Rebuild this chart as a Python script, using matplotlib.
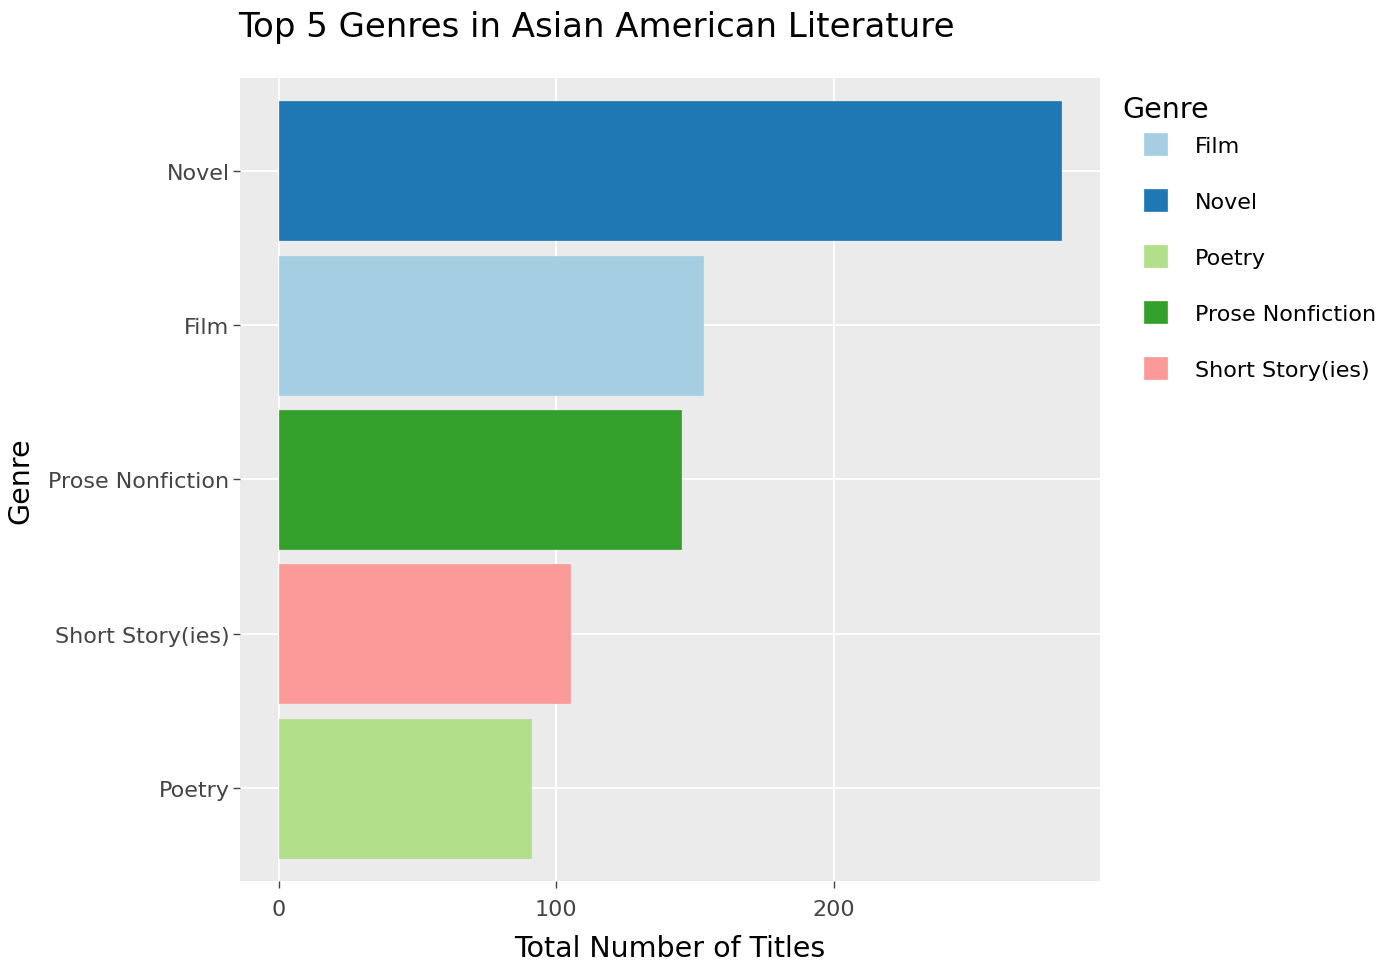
import matplotlib
matplotlib.use("Agg")
import matplotlib.pyplot as plt
from matplotlib.patches import Rectangle

genres = ["Poetry", "Short Story(ies)", "Prose Nonfiction", "Film", "Novel"]
titles = [91, 105, 145, 153, 282]
colors = {"Film": "#a6cee3", "Novel": "#1f78b4", "Poetry": "#b2df8a",
          "Prose Nonfiction": "#33a02c", "Short Story(ies)": "#fb9a99"}
legend_order = ["Film", "Novel", "Poetry", "Prose Nonfiction", "Short Story(ies)"]
xticks = [0, 100, 200]

W, H = 1400, 962
fig = plt.figure(figsize=(14, 9.62), dpi=100)
ax = fig.add_axes([240 / W, 1 - 882 / H, (1100 - 240) / W, (882 - 79) / H])
ax.set_facecolor("#EBEBEB")
ax.barh(range(len(genres)), titles, height=0.9,
        color=[colors[g] for g in genres], edgecolor=[colors[g] for g in genres],
        linewidth=0.5, zorder=3)
ax.set_yticks(range(len(genres)))
ax.set_yticklabels(genres)
ax.set_xticks(xticks)
ax.set_xlim(-14.0, 295.9)
ax.set_ylim(-0.6, 4.6)
ax.grid(True, color="white", linewidth=1.3, zorder=0)
ax.set_axisbelow(True)
for s in ax.spines.values():
    s.set_visible(False)
ax.tick_params(axis="both", length=5, width=1, color="#444444",
               labelcolor="#444444", labelsize=16)
ax.tick_params(axis="y", pad=2.5)
ax.tick_params(axis="x", pad=8)
ax.set_xlabel("Total Number of Titles", fontsize=20.5, color="black", labelpad=11)
ax.set_ylabel("Genre", fontsize=20.5, color="black", labelpad=10)

fig.text(238 / W, 1 - 28 / H, "Top 5 Genres in Asian American Literature",
         fontsize=24.5, va="center", ha="left", color="black")

fig.text(1122 / W, 1 - 110 / H, "Genre", fontsize=20.5, va="center", ha="left")
for i, g in enumerate(legend_order):
    yc = 145 + 56 * i
    fig.add_artist(Rectangle((1144 / W, 1 - (yc + 11) / H), 23 / W, 22 / H,
                             transform=fig.transFigure, facecolor=colors[g],
                             edgecolor=colors[g], linewidth=0.5))
    fig.text(1195 / W, 1 - (yc + 2) / H, g, fontsize=16, va="center", ha="left")

fig.savefig("out.png", dpi=100)
